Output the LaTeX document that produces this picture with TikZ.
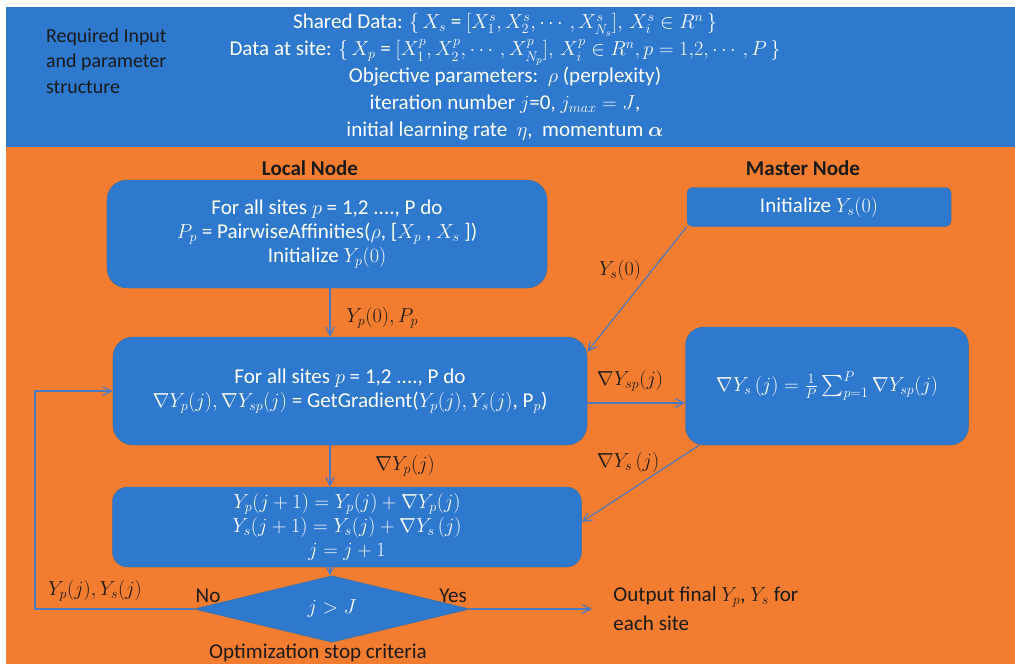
\documentclass[tikz,border=0pt]{standalone}
\usepackage{amsmath,amssymb}
\usepackage{fontspec}
\setmainfont{Carlito}
\usepackage{tikz}
\usetikzlibrary{arrows.meta,shapes.geometric,positioning,calc}
\definecolor{dtsInk}{HTML}{1A1A1A}
\definecolor{dtsBlue}{HTML}{2E78CE}
\definecolor{dtsBlueEdge}{HTML}{41719C}
\definecolor{dtsOrange}{HTML}{F27D30}
\definecolor{dtsArrow}{HTML}{4A78C2}
\tikzset{
  dtsStep/.style={fill=dtsBlue,draw=dtsBlueEdge,text=white,thin},
  dtsLabel/.style={text=dtsInk,inner sep=1pt,font=\fontsize{18}{21}\selectfont},
  dtsEdge/.style={draw=dtsArrow,line width=1pt}
}

\begin{document}
\begin{tikzpicture}[x=0.03cm,y=-0.03cm,
  box/.style={dtsStep,align=center,font=\fontsize{18}{20.5}\selectfont,
    inner sep=0pt},
  arrow/.style={dtsEdge,-{Straight Barb[length=2.6mm,width=2.6mm]}},
  head/.style={text=dtsInk,font=\fontsize{18}{21}\selectfont\bfseries}]
\useasboundingbox (0,0) rectangle (1015,664);
% background bands
\fill[white] (0,0) rectangle (1015,664);
\fill[dtsBlue] (6,7) rectangle (1015,147);
\fill[dtsOrange] (6,147) rectangle (1015,664);
% required input
\node[anchor=west,align=left,text=dtsInk,
  font=\fontsize{17}{22}\selectfont] (req) at (42,61)
  {Required Input\\and parameter\\structure};
\node[align=center,text=white,font=\fontsize{18}{23}\selectfont] (param) at (505,77)
  {Shared Data: $\{\, X_s$ = $[X_1^s, X_2^s, \cdots, X_{N_s}^s],\, X_i^s \in R^n \,\}$\\
   Data at site: $\{\, X_p$ = $[X_1^p, X_2^p, \cdots, X_{N_p}^p],\, X_i^p \in R^n, p = 1{,}2, \cdots, P \,\}$\\
   Objective parameters:\ \ $\rho$ (perplexity)\\
   iteration number $j$=0, $j_{max} = J$,\\
   initial learning rate\ \ $\eta$,\ \ momentum $\boldsymbol{\alpha}$};
% column titles
\node[head] (localT) at (310,168) {Local Node};
\node[head] (masterT) at (803,168) {Master Node};
% local node steps
\node[box,rounded corners=0.6cm,minimum width=13.2cm,minimum height=3.24cm] (init) at (327,234)
  {For all sites $p$ = 1,2 ...., P do\\
   $P_p$ = PairwiseAffinities($\rho$, [$X_p$ , $X_s$ ])\\
   Initialize $Y_p(0)$};
\node[box,rounded corners=0.6cm,minimum width=14.22cm,minimum height=3.24cm] (grad) at (350,391)
  {For all sites $p$ = 1,2 ...., P do\\
   $\nabla Y_p(j), \nabla Y_{sp}(j)$ = GetGradient($Y_p(j), Y_s(j)$, P$_p$)};
\node[box,rounded corners=0.45cm,minimum width=14.07cm,minimum height=2.4cm] (update) at (347,527)
  {$Y_p(j+1) = Y_p(j) + \nabla Y_p(j)$\\
   $Y_s(j+1) = Y_s(j) + \nabla Y_s\,(j)$\\
   $j = j+1$};
\node[box,diamond,minimum width=8.28cm,minimum height=1.74cm] (stop) at (332,609)
  {$j > J$};
% master node steps
\node[box,rounded corners=0.18cm,minimum width=7.92cm,minimum height=1.17cm] (minit) at (819,207)
  {Initialize $Y_s(0)$};
\node[box,rounded corners=0.55cm,minimum width=8.49cm,minimum height=3.54cm] (mgrad) at (827,386)
  {$\nabla Y_s\,(j) = \frac{1}{P}\sum_{p=1}^{P}\nabla Y_{sp}(j)$};
% connectors
\coordinate (loop) at (35,609);
\coordinate (outEnd) at (592,609);
\coordinate (gradOut) at ($(grad.east)+(0,12)$);
\draw[arrow] (init.south -| 330,0) -- (grad.north -| 330,0);
\draw[arrow] (grad.south -| 330,0) -- (update.north -| 330,0);
\draw[arrow] (update.south -| 330,0) -- (stop.north -| 330,0);
\draw[arrow] (minit.south west) -- ($(grad.north east)+(0,15)$);
\draw[arrow] (gradOut) -- (gradOut -| mgrad.west);
\draw[arrow] ($(mgrad.south west)+(14,0)$) -- ($(update.east)+(0,-5)$);
\draw[arrow] (stop.west) -- (loop) |- (grad.west);
\draw[arrow] (stop.east) -- (outEnd);
% connector labels
\node[dtsLabel] (lYs0) at (620,270) {$Y_s(0)$};
\node[dtsLabel,anchor=west] (lYp0) at (345,318) {$Y_p(0), P_p$};
\node[dtsLabel] (lYsp) at (630,381) {$\nabla Y_{sp}(j)$};
\node[dtsLabel] (lYs) at (628,462) {$\nabla Y_s\,(j)$};
\node[dtsLabel] (lYp) at (405,466) {$\nabla Y_p(j)$};
\node[dtsLabel] (lloop) at (95,591) {$Y_p(j), Y_s(j)$};
\node[dtsLabel] (lno) at (208,596) {No};
\node[dtsLabel] (lyes) at (453,596) {Yes};
\node[dtsLabel,anchor=west,align=left,font=\fontsize{18}{25}\selectfont] (output) at (612,609)
  {Output final $Y_p$, $Y_s$ for\\each site};
\node[dtsLabel] (crit) at (318,653) {Optimization stop criteria};
\end{tikzpicture}
\end{document}
